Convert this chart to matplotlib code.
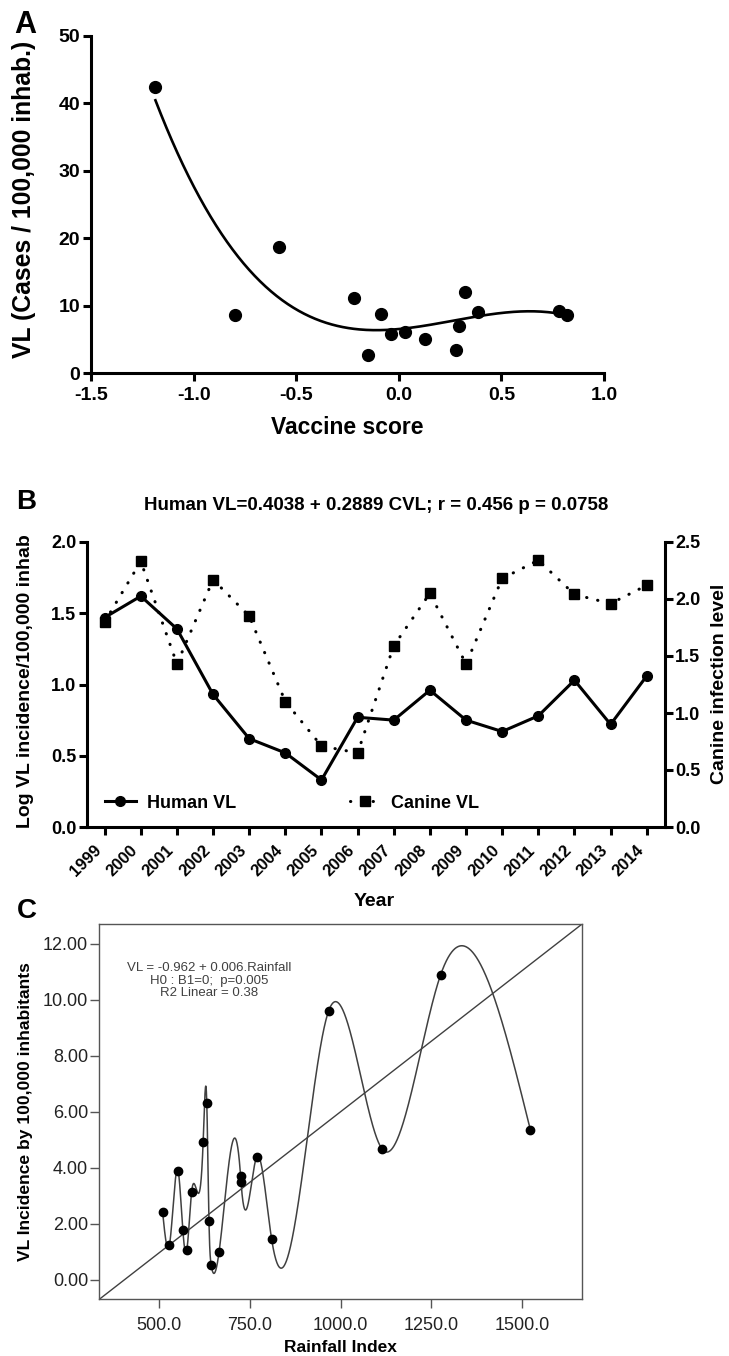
import numpy as np
import matplotlib
matplotlib.use("Agg")
import matplotlib.pyplot as plt

plt.rcParams['font.family'] = ['Liberation Sans', 'DejaVu Sans']
plt.rcParams['axes.unicode_minus'] = False

# ---------------- Panel A data ----------------
vaccine_score = [-1.186, -0.798, -0.585, -0.216, -0.151, -0.087, -0.039, 0.032,
                 0.126, 0.280, 0.294, 0.323, 0.388, 0.780, 0.821]
vl_cases = [42.5, 8.6, 18.7, 11.1, 2.7, 8.7, 5.8, 6.1,
            5.1, 3.4, 6.9, 12.0, 9.1, 9.2, 8.6]
a_xticks = [-1.5, -1.0, -0.5, 0.0, 0.5, 1.0]
a_yticks = [0, 10, 20, 30, 40, 50]

# ---------------- Panel B data ----------------
years = [1999, 2000, 2001, 2002, 2003, 2004, 2005, 2006,
         2007, 2008, 2009, 2010, 2011, 2012, 2013, 2014]
human_vl = [1.47, 1.62, 1.39, 0.93, 0.62, 0.52, 0.33, 0.77,
            0.75, 0.96, 0.75, 0.67, 0.78, 1.03, 0.72, 1.06]
canine_vl = [1.80, 2.33, 1.43, 2.17, 1.85, 1.10, 0.71, 0.65,
             1.59, 2.05, 1.43, 2.18, 2.34, 2.04, 1.96, 2.12]
b_left_ticks = [0.0, 0.5, 1.0, 1.5, 2.0]
b_right_ticks = [0.0, 0.5, 1.0, 1.5, 2.0, 2.5]

# ---------------- Panel C data ----------------
rainfall = [509, 528, 552, 565, 576, 589, 621, 631, 637, 643, 665,
            724.3, 725.4, 769, 810, 967, 1115, 1276, 1524]
vl_incidence = [2.44, 1.25, 3.90, 1.77, 1.08, 3.13, 4.94, 6.33, 2.12, 0.54, 1.01,
                3.71, 3.51, 4.40, 1.45, 9.60, 4.67, 10.89, 5.35]
reg_intercept = -4.055
reg_slope = 0.01006
c_xticks = [500, 750, 1000, 1250, 1500]
c_yticks = [0, 2, 4, 6, 8, 10, 12]

W, H = 729, 1356
fig = plt.figure(figsize=(W / 100, H / 100), dpi=100)


def fx(px):
    return px / W


def fy(py):
    return 1 - py / H


def natural_spline(x, y, xs):
    x = np.asarray(x, float)
    y = np.asarray(y, float)
    n = len(x)
    h = np.diff(x)
    A = np.zeros((n, n))
    r = np.zeros(n)
    A[0, 0] = 1
    A[-1, -1] = 1
    for i in range(1, n - 1):
        A[i, i - 1] = h[i - 1]
        A[i, i] = 2 * (h[i - 1] + h[i])
        A[i, i + 1] = h[i]
        r[i] = 3 * ((y[i + 1] - y[i]) / h[i] - (y[i] - y[i - 1]) / h[i - 1])
    c = np.linalg.solve(A, r)
    b = (y[1:] - y[:-1]) / h - h * (2 * c[:-1] + c[1:]) / 3
    d = (c[1:] - c[:-1]) / (3 * h)
    idx = np.clip(np.searchsorted(x, xs) - 1, 0, n - 2)
    t = xs - x[idx]
    return y[idx] + b[idx] * t + c[idx] * t ** 2 + d[idx] * t ** 3


# ================= Panel A =================
axA = fig.add_axes([fx(91), fy(373), fx(604) - fx(91), fy(36) - fy(373)])
coef = np.polyfit(vaccine_score, vl_cases, 3)
xs = np.linspace(min(vaccine_score), max(vaccine_score), 300)
axA.plot(xs, np.polyval(coef, xs), color='black', lw=1.9, zorder=2)
axA.plot(vaccine_score, vl_cases, 'o', color='black', ms=8.5, clip_on=False, zorder=3)
axA.set_xlim(-1.5, 1.0)
axA.set_ylim(0, 50)
for s in ['top', 'right']:
    axA.spines[s].set_visible(False)
for s in ['left', 'bottom']:
    axA.spines[s].set_linewidth(2.2)
axA.tick_params(direction='out', length=5.8, width=2.2, labelsize=14)
axA.tick_params(axis='y', pad=2)
axA.tick_params(axis='x', pad=4)
axA.set_xticks(a_xticks, labels=[f"{v:.1f}" for v in a_xticks], fontweight='bold')
axA.set_yticks(a_yticks, labels=[f"{v}" for v in a_yticks], fontweight='bold')

fig.text(fx(14), fy(33), 'A', fontsize=22, fontweight='bold', ha='left', va='baseline')
fig.text(fx(24), fy(199), 'VL (Cases / 100,000 inhab.)', rotation=90, fontsize=17.8,
         fontweight='bold', ha='center', va='center')
fig.text(fx(347), fy(427), 'Vaccine score', fontsize=16.5, fontweight='bold',
         ha='center', va='center')

# ================= Panel B =================
axB = fig.add_axes([fx(86.6), fy(827), fx(664.8) - fx(86.6), fy(542) - fy(827)])
axB2 = axB.twinx()
hb, = axB.plot(years, human_vl, '-o', color='black', lw=2.2, ms=7, clip_on=False,
               zorder=3, label='Human VL')
cb, = axB2.plot(years, canine_vl, linestyle=(0, (0.1, 3.6)), dash_capstyle='round',
                marker='s', color='black', lw=2.2, ms=7, clip_on=False, label='Canine VL')
axB.set_xlim(1998.5, 2014.5)
axB.set_ylim(0, 2.0)
axB2.set_ylim(0, 2.5)
for s in ['top', 'right']:
    axB.spines[s].set_visible(False)
for s in ['top', 'left', 'bottom']:
    axB2.spines[s].set_visible(False)
for s in ['left', 'bottom']:
    axB.spines[s].set_linewidth(2.2)
axB2.spines['right'].set_linewidth(2.2)
axB.tick_params(direction='out', length=5.8, width=2.2, labelsize=13)
axB.tick_params(axis='y', pad=1.5)
axB.tick_params(axis='x', pad=5.5, labelsize=12)
axB2.tick_params(direction='out', length=5.8, width=2.2, labelsize=13, pad=1.5)
axB.set_xticks(years, labels=[str(y) for y in years], rotation=45, ha='right',
               fontweight='bold')
axB.set_yticks(b_left_ticks, labels=[f"{v:.1f}" for v in b_left_ticks], fontweight='bold')
axB2.set_yticks(b_right_ticks, labels=[f"{v:.1f}" for v in b_right_ticks], fontweight='bold')
axB2.legend([hb, cb], ['Human VL', 'Canine VL'], loc='center left',
            bbox_to_anchor=(0.032, 0.084), ncol=2, frameon=False,
            prop={'weight': 'bold', 'size': 13}, handlelength=1.7, handletextpad=0.6,
            columnspacing=6.3, borderpad=0, borderaxespad=0)

fig.text(fx(16), fy(509), 'B', fontsize=20, fontweight='bold', ha='left', va='baseline')
fig.text(fx(376), fy(506), 'Human VL=0.4038 + 0.2889 CVL; r = 0.456 p = 0.0758',
         fontsize=13.5, fontweight='bold', ha='center', va='center')
fig.text(fx(26), fy(681), 'Log VL incidence/100,000 inhab', rotation=90, fontsize=14,
         fontweight='bold', ha='center', va='center')
fig.text(fx(719), fy(684), 'Canine infection level', rotation=90, fontsize=14,
         fontweight='bold', ha='center', va='center')
fig.text(fx(374), fy(902), 'Year', fontsize=14, fontweight='bold', ha='center', va='center')

# ================= Panel C =================
gray = '#404040'
axC = fig.add_axes([fx(99.3), fy(1299.3), fx(582.3) - fx(99.3), fy(924) - fy(1299.3)])
axC.set_xlim(334.5, 1667)
axC.set_ylim(-0.69, 12.71)
xl = np.array(axC.get_xlim())
axC.plot(xl, reg_intercept + reg_slope * xl, color=gray, lw=1.0, zorder=2)
xs_c = np.linspace(min(rainfall), max(rainfall), 3000)
axC.plot(xs_c, natural_spline(rainfall, vl_incidence, xs_c), color=gray, lw=1.1, zorder=2)
axC.plot(rainfall, vl_incidence, 'o', color='black', ms=6, zorder=3)
for s in axC.spines.values():
    s.set_linewidth(1.0)
    s.set_color('#555555')
axC.tick_params(direction='out', length=6.5, width=1.0, color='#555555',
                labelsize=13, labelcolor='#222222')
axC.tick_params(axis='x', pad=6.5)
axC.tick_params(axis='y', pad=1.5)
axC.set_xticks(c_xticks, labels=[f"{v:.1f}" for v in c_xticks])
axC.set_yticks(c_yticks, labels=[f"{v:.2f}" for v in c_yticks])

fig.text(fx(17), fy(918), 'C', fontsize=20, fontweight='bold', ha='left', va='baseline')
fig.text(fx(26), fy(1112), 'VL Incidence by 100,000 inhabitants', rotation=90,
         fontsize=12.6, fontweight='bold', ha='center', va='center')
fig.text(fx(340), fy(1347), 'Rainfall Index', fontsize=12.5, fontweight='bold',
         ha='center', va='center')
for txt, yy in [('VL = -0.962 + 0.006.Rainfall', 968), ('H0 : B1=0;  p=0.005', 981),
                ('R2 Linear = 0.38', 993)]:
    fig.text(fx(209.5), fy(yy), txt, fontsize=9.5, color=gray, ha='center', va='center')

fig.savefig('out.png', dpi=100, facecolor='white')
